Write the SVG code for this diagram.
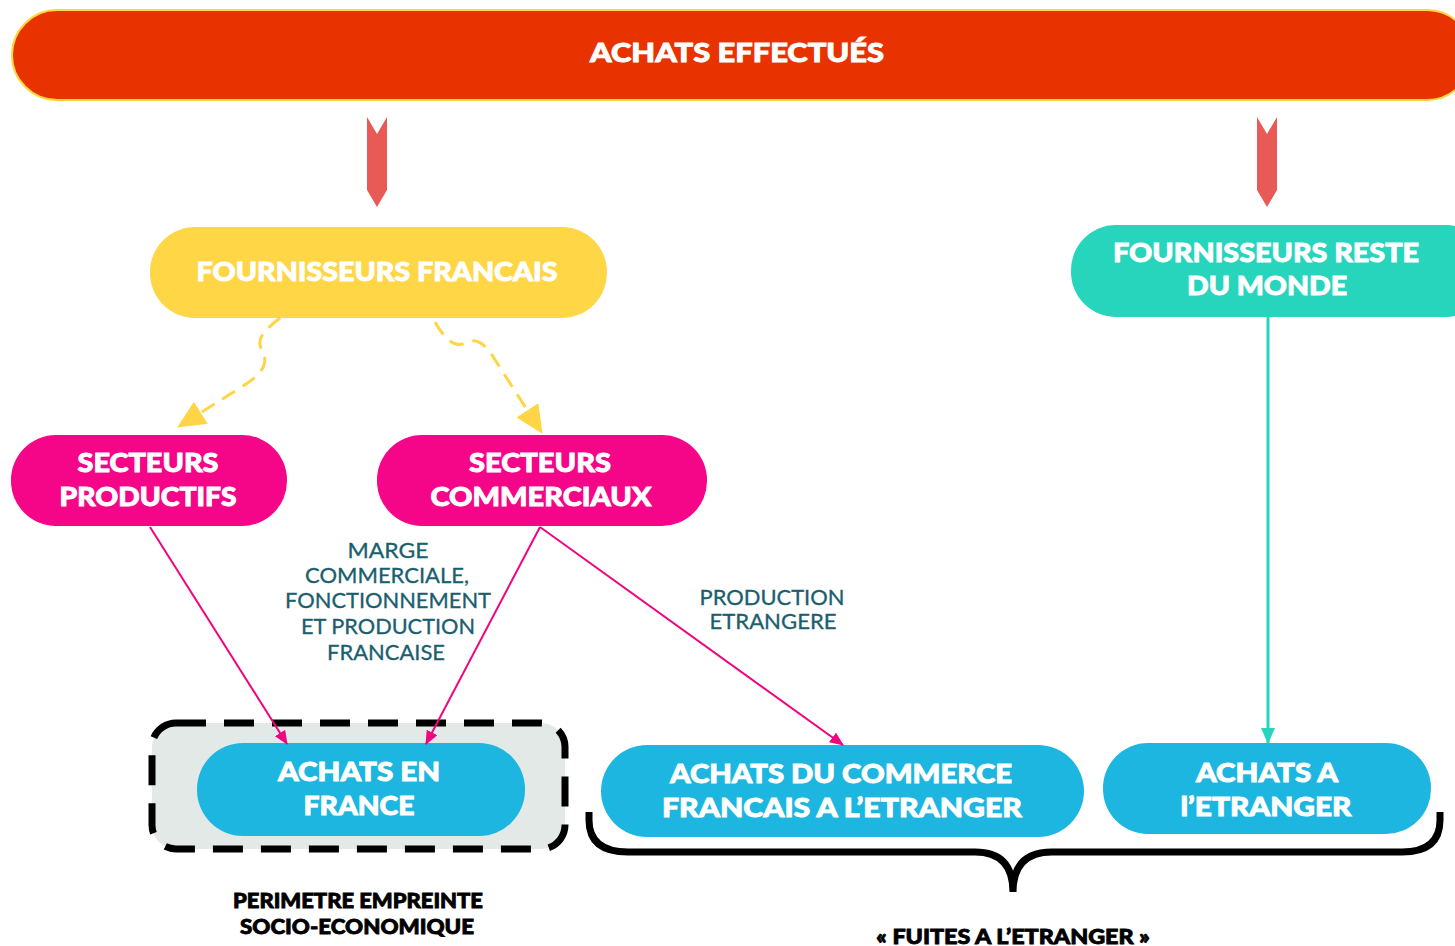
<svg xmlns="http://www.w3.org/2000/svg" width="1455" height="946" viewBox="0 0 1455 946">
<style>
.nt{font-family:Lato,"Open Sans","DejaVu Sans",sans-serif;font-weight:900;fill:#fff;stroke:#fff;stroke-width:0.9;text-anchor:middle;font-size:27px}
.lt{font-family:Lato,"Open Sans","DejaVu Sans",sans-serif;font-weight:400;fill:#1B5E6E;stroke:#1B5E6E;stroke-width:0.3;text-anchor:middle;font-size:21px}
.bt{font-family:Lato,"Open Sans","DejaVu Sans",sans-serif;font-weight:900;fill:#000;stroke:#000;stroke-width:0.8;text-anchor:middle;font-size:20px}
.pk{fill:none;stroke:#F0047F;stroke-width:2}
.yd{fill:none;stroke:#FFD445;stroke-width:3;stroke-dasharray:15 9}
</style>
<defs>
<marker id="mp" markerWidth="14" markerHeight="12" refX="13" refY="6" orient="auto" markerUnits="userSpaceOnUse"><path d="M0,0 L14,6 L0,12 Z" fill="#F0047F"/></marker>
<marker id="mt" markerWidth="16" markerHeight="14" refX="15" refY="7" orient="auto" markerUnits="userSpaceOnUse"><path d="M0,0 L16,7 L0,14 Z" fill="#26D5BC"/></marker>
<marker id="my" markerWidth="28" markerHeight="26" refX="27" refY="13" orient="auto" markerUnits="userSpaceOnUse"><path d="M0,0 L28,13 L0,26 Z" fill="#FFD445"/></marker>
</defs>

<g id="titre">
<rect x="12" y="10" width="1460" height="90" rx="45" fill="#E83300" stroke="#FFD740" stroke-width="2"/>
<text class="nt" x="737" y="62" font-size="29" textLength="294" lengthAdjust="spacingAndGlyphs">ACHATS EFFECTUÉS</text>
</g>

<g id="fleches-rouges" fill="#E85A55">
<path d="M367,117 L377,134 L387,117 L387,190 L377,207 L367,190 Z"/>
<path d="M1257,117 L1267,134 L1277,117 L1277,190 L1267,207 L1257,190 Z"/>
</g>

<g id="fournisseurs-francais">
<rect x="150" y="227" width="457" height="91" rx="45" fill="#FFD645"/>
<text class="nt" x="377" y="281" textLength="361" lengthAdjust="spacingAndGlyphs">FOURNISSEURS FRANCAIS</text>
</g>

<g id="fournisseurs-reste-du-monde">
<rect x="1071" y="225" width="420" height="92" rx="45" fill="#26D5BC"/>
<text class="nt" x="1266" y="262" textLength="306" lengthAdjust="spacingAndGlyphs">FOURNISSEURS RESTE</text>
<text class="nt" x="1267" y="295" textLength="160" lengthAdjust="spacingAndGlyphs">DU MONDE</text>
</g>

<g id="secteurs-productifs">
<rect x="11" y="435" width="276" height="91" rx="45" fill="#F50587"/>
<text class="nt" x="148" y="472" textLength="141" lengthAdjust="spacingAndGlyphs">SECTEURS</text>
<text class="nt" x="148" y="506" textLength="177" lengthAdjust="spacingAndGlyphs">PRODUCTIFS</text>
</g>

<g id="secteurs-commerciaux">
<rect x="377" y="435" width="330" height="91" rx="45" fill="#F50587"/>
<text class="nt" x="540" y="472" textLength="142" lengthAdjust="spacingAndGlyphs">SECTEURS</text>
<text class="nt" x="541" y="506" textLength="221" lengthAdjust="spacingAndGlyphs">COMMERCIAUX</text>
</g>

<g id="perimetre">
<rect x="152" y="723" width="413" height="126" rx="24" fill="#E2E9E6" stroke="#000" stroke-width="7" stroke-dasharray="30 18"/>
</g>

<g id="achats-en-france">
<rect x="197" y="743" width="328" height="93" rx="46" fill="#1DB6E0"/>
<text class="nt" x="359" y="781" textLength="162" lengthAdjust="spacingAndGlyphs">ACHATS EN</text>
<text class="nt" x="359" y="815" textLength="111" lengthAdjust="spacingAndGlyphs">FRANCE</text>
</g>

<g id="achats-commerce-etranger">
<rect x="601" y="745" width="483" height="92" rx="46" fill="#1DB6E0"/>
<text class="nt" x="841" y="783" textLength="342" lengthAdjust="spacingAndGlyphs">ACHATS DU COMMERCE</text>
<text class="nt" x="842" y="817" textLength="360" lengthAdjust="spacingAndGlyphs">FRANCAIS A L’ETRANGER</text>
</g>

<g id="achats-etranger">
<rect x="1103" y="743" width="328" height="91" rx="45" fill="#1DB6E0"/>
<text class="nt" x="1267" y="782" textLength="142" lengthAdjust="spacingAndGlyphs">ACHATS A</text>
<text class="nt" x="1266" y="816" textLength="171" lengthAdjust="spacingAndGlyphs">l’ETRANGER</text>
</g>

<g id="accolade">
<path d="M589,812 L589,820 Q589,852 628,852 L975,852 Q1013,852 1013,892 Q1013,852 1052,852 L1402,852 Q1440,852 1440,820 L1440,812" fill="none" stroke="#000" stroke-width="7"/>
</g>

<g id="connecteurs">
<path class="yd" d="M280,318 C262,332 256,340 262,350 C268,362 266,372 240,388 L178,427" marker-end="url(#my)"/>
<path class="yd" d="M435,322 C445,340 455,348 465,343 C475,338 482,342 490,352 L542,433" marker-end="url(#my)"/>
<line class="pk" x1="150" y1="527" x2="287" y2="744" marker-end="url(#mp)"/>
<line class="pk" x1="540" y1="527" x2="426" y2="744" marker-end="url(#mp)"/>
<line class="pk" x1="540" y1="527" x2="843" y2="745" marker-end="url(#mp)"/>
<line x1="1268" y1="317" x2="1268" y2="743" stroke="#26D5BC" stroke-width="3" marker-end="url(#mt)"/>
</g>

<g id="labels">
<text class="lt" x="388" y="558" textLength="81" lengthAdjust="spacingAndGlyphs">MARGE</text>
<text class="lt" x="387" y="583" textLength="164" lengthAdjust="spacingAndGlyphs">COMMERCIALE,</text>
<text class="lt" x="388" y="608" textLength="206" lengthAdjust="spacingAndGlyphs">FONCTIONNEMENT</text>
<text class="lt" x="388" y="634" textLength="174" lengthAdjust="spacingAndGlyphs">ET PRODUCTION</text>
<text class="lt" x="386" y="660" textLength="118" lengthAdjust="spacingAndGlyphs">FRANCAISE</text>
<text class="lt" x="772" y="605" textLength="145" lengthAdjust="spacingAndGlyphs">PRODUCTION</text>
<text class="lt" x="773" y="629" textLength="127" lengthAdjust="spacingAndGlyphs">ETRANGERE</text>
<text class="bt" x="358" y="908" textLength="250" lengthAdjust="spacingAndGlyphs">PERIMETRE EMPREINTE</text>
<text class="bt" x="357" y="934" textLength="234" lengthAdjust="spacingAndGlyphs">SOCIO-ECONOMIQUE</text>
<text class="bt" x="1013" y="944" textLength="274" lengthAdjust="spacingAndGlyphs">« FUITES A L’ETRANGER »</text>
</g>
</svg>
